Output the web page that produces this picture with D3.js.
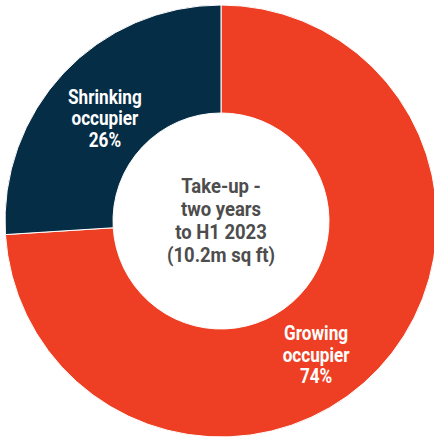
<!DOCTYPE html>
<html>
<head>
<meta charset="utf-8">
<script src="https://cdn.jsdelivr.net/npm/d3@7"></script>
<style>
  html, body { margin: 0; padding: 0; background: #fff; }
  svg { display: block; }
  text { font-family: Roboto, "Liberation Sans", sans-serif; font-weight: 700; }
</style>
</head>
<body>
<div id="chart"></div>
<script>
// Share of take-up by occupier type
const categories = ["Growing occupier", "Shrinking occupier"];
const shares = [74, 26];
const labelLines = [["Growing", "occupier", "74%"], ["Shrinking", "occupier", "26%"]];
const centerLines = ["Take-up -", "two years", "to H1 2023", "(10.2m sq ft)"];

const width = 434;
const height = 437;
const cx = 221;
const cy = 221;
const outerR = 216;
const innerR = 108;

// the source places its labels by hand, so nudge them off the centroid a bit
const labelNudge = [[-23, 30], [2, 15]];
const squeeze = 0.88; // fake a condensed face

const color = d3.scaleOrdinal().domain(categories).range(["#EE3F24", "#062D46"]);

const svg = d3.select("#chart")
  .append("svg")
  .attr("width", width)
  .attr("height", height)
  .append("g")
  .attr("transform", `translate(${cx},${cy})`);

const pie = d3.pie().sort(null).value((d) => d.value);
const arcs = pie(categories.map((c, i) => ({ name: c, value: shares[i], lines: labelLines[i], nudge: labelNudge[i] })));

const arc = d3.arc().innerRadius(innerR).outerRadius(outerR);

svg.selectAll(".slice")
  .data(arcs)
  .enter()
  .append("path")
  .attr("class", "slice")
  .attr("d", arc)
  .attr("fill", (d) => color(d.data.name))
  .attr("stroke", "#fff")
  .attr("stroke-width", 1);

const labelArc = d3.arc().innerRadius(162).outerRadius(162);
const lineH = 21.5;

const labels = svg.selectAll(".label")
  .data(arcs)
  .enter()
  .append("text")
  .attr("class", "label")
  .attr("text-anchor", "middle")
  .attr("fill", "#fff")
  .style("font-size", "19.5px")
  .attr("transform", (d) => {
    const [x, y] = labelArc.centroid(d);
    return `translate(${x + d.data.nudge[0]},${y + d.data.nudge[1]}) scale(${squeeze},1)`;
  });

labels.selectAll("tspan")
  .data((d) => d.data.lines)
  .enter()
  .append("tspan")
  .attr("x", 0)
  .attr("y", (d, i) => (i - 1) * lineH)
  .text((d) => d);

// Centre text
svg.append("text")
  .attr("text-anchor", "middle")
  .attr("fill", "#4d4d4d")
  .style("font-size", "21px")
  .attr("transform", `scale(${squeeze},1)`)
  .selectAll("tspan")
  .data(centerLines)
  .enter()
  .append("tspan")
  .attr("x", 0)
  .attr("y", (d, i) => -28 + i * 23)
  .text((d) => d);
</script>
</body>
</html>
